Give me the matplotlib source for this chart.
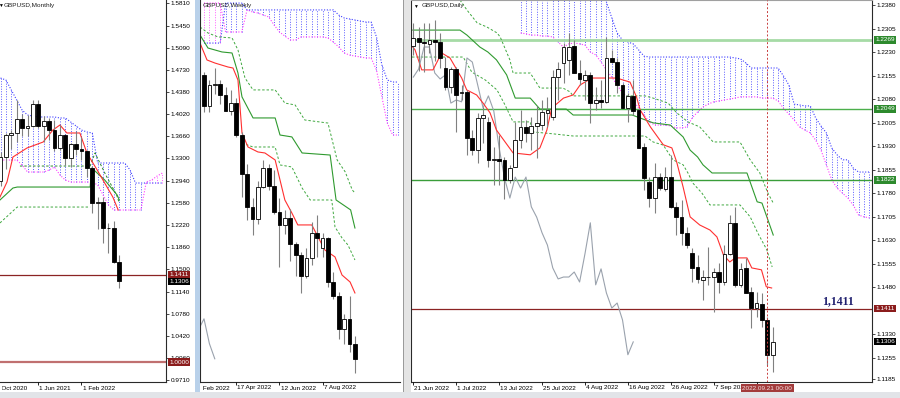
import numpy as np
import matplotlib
matplotlib.use("Agg")
import matplotlib.pyplot as plt
import matplotlib.transforms as mtransforms
from matplotlib.patches import Rectangle

plt.rcParams["font.family"] = ["Liberation Sans", "DejaVu Sans"]

# ---------------- monthly, Nov 2020 .. Sep 2022 ----------------
m_open = [1.2940, 1.3315, 1.3670, 1.3707, 1.3930, 1.3783, 1.3817, 1.4185, 1.3828, 1.3905, 1.3752, 1.3475,
          1.3682, 1.3298, 1.3532, 1.3446, 1.3414, 1.3137, 1.2572, 1.2600, 1.2178, 1.2166, 1.1621]
m_high = [1.3398, 1.3704, 1.3759, 1.4241, 1.4017, 1.4009, 1.4250, 1.4249, 1.3984, 1.3958, 1.3913, 1.3834,
          1.3698, 1.3546, 1.3749, 1.3643, 1.3437, 1.3168, 1.2667, 1.2666, 1.2246, 1.2293, 1.1738]
m_low = [1.2854, 1.3134, 1.3452, 1.3566, 1.3669, 1.3669, 1.3800, 1.3787, 1.3572, 1.3602, 1.3412, 1.3434,
         1.3194, 1.3160, 1.3358, 1.3273, 1.3000, 1.2411, 1.2155, 1.1934, 1.1760, 1.1599, 1.1208]
m_close = [1.3315, 1.3670, 1.3707, 1.3930, 1.3783, 1.3817, 1.4185, 1.3828, 1.3905, 1.3752, 1.3475, 1.3682,
           1.3298, 1.3532, 1.3446, 1.3414, 1.3137, 1.2572, 1.2600, 1.2178, 1.2166, 1.1621, 1.1306]
m_span_a = [1.3272] * 4 + [1.3192] + [1.3078] * 4 + [1.3111, 1.3159, 1.3030, 1.2949] + [1.2916] * 5 + \
           [1.2868, 1.2706, 1.2544] + [1.2463] * 6 + [1.2916, 1.2949, 1.3013, 1.3062]
m_span_b = [1.4600, 1.4568, 1.4406, 1.4244, 1.4082, 1.4001, 1.3985] + [1.3969] * 4 + \
           [1.3953, 1.3953, 1.3888, 1.3823, 1.3758, 1.3726, 1.3710] + [1.3224] * 6 + [1.3111] + [1.2900] * 6
m_tenkan_x = [-0.1, 1.2, 2.3, 4.9, 7.9, 9.7, 11.0, 12.3, 14.7, 16.0, 17.9, 20.8, 21.8]
m_tenkan_y = [1.2673, 1.2916, 1.3321, 1.3467, 1.3564, 1.3758, 1.3839, 1.3710, 1.3710, 1.3386, 1.3111, 1.2673, 1.2463]
m_kijun_x = [-0.1, 2.3, 3.1, 16.6, 16.9, 19.3, 21.6, 22.0]
m_kijun_y = [1.2625, 1.2819, 1.2835, 1.2835, 1.3143, 1.2949, 1.2706, 1.2625]
m_dash1_x = [3.6, 16.6, 17.5, 19.5, 21.5, 22.0]
m_dash1_y = [1.3175, 1.3175, 1.3386, 1.3030, 1.2706, 1.2580]
m_dash2_x = [-0.1, 3.1, 16.6]
m_dash2_y = [1.2253, 1.2511, 1.2511]
m_ticks = [1.5810, 1.5450, 1.5090, 1.4730, 1.4380, 1.4020, 1.3660, 1.3300, 1.2940, 1.2580, 1.2220,
           1.1860, 1.1500, 1.1140, 1.0780, 1.0420, 1.0060, 0.9710]
m_date_pos = [-1, 7, 15]
m_date_lab = ["1 Oct 2020", "1 Jun 2021", "1 Feb 2022"]

# ---------------- weekly, 6 Mar 2022 .. 18 Sep 2022 ----------------
w_open = [1.3248, 1.3036, 1.3180, 1.3187, 1.3115, 1.3006, 1.3060, 1.2838, 1.2572, 1.2346, 1.2262, 1.2485,
          1.2610, 1.2490, 1.2310, 1.2220, 1.2270, 1.2090, 1.2020, 1.1870, 1.1995, 1.2168, 1.2065, 1.2134,
          1.1830, 1.1735, 1.1507, 1.1580, 1.1410]
w_high = [1.3273, 1.3214, 1.3298, 1.3215, 1.3166, 1.3147, 1.3090, 1.2859, 1.2638, 1.2406, 1.2525, 1.2666,
          1.2640, 1.2600, 1.2406, 1.2324, 1.2332, 1.2104, 1.2040, 1.2063, 1.2246, 1.2293, 1.2168, 1.2138,
          1.1900, 1.1761, 1.1610, 1.1738, 1.1460]
w_low = [1.3000, 1.2999, 1.3123, 1.3051, 1.3002, 1.2973, 1.2828, 1.2411, 1.2260, 1.2155, 1.2230, 1.2477,
         1.2460, 1.2300, 1.1934, 1.2160, 1.1976, 1.1876, 1.1760, 1.1860, 1.1950, 1.2004, 1.2004, 1.1801,
         1.1717, 1.1444, 1.1406, 1.1351, 1.1212]
w_close = [1.3036, 1.3180, 1.3187, 1.3115, 1.3006, 1.3060, 1.2838, 1.2572, 1.2346, 1.2262, 1.2485, 1.2610,
           1.2490, 1.2310, 1.2220, 1.2270, 1.2090, 1.2020, 1.1870, 1.1995, 1.2166, 1.2134, 1.2134, 1.1830,
           1.1735, 1.1507, 1.1580, 1.1410, 1.1306]
w_span_a = [1.3743] * 4 + [1.3545] * 4 + [1.3696, 1.3682, 1.3675, 1.3661, 1.3648, 1.3593, 1.3545, 1.3517,
           1.3490, 1.3490, 1.3511, 1.3511, 1.3511, 1.3511, 1.3511, 1.3504, 1.3476, 1.3442, 1.3401, 1.3387,
           1.3380, 1.3374, 1.3367, 1.3367, 1.3284, 1.3100, 1.2921, 1.2839, 1.2839]
w_span_b = [1.3469] * 4 + [1.3743] * 4 + [1.3696] * 17 + [1.3661, 1.3641, 1.3634, 1.3627, 1.3620, 1.3613,
           1.3613, 1.3511, 1.3319, 1.3216, 1.3202, 1.3202]
w_tenkan_x = [-0.74, 0.56, 2.04, 4.45, 5.38, 6.3, 7.05, 8.16, 10.0, 11.3, 13.2, 15.0, 16.3, 17.4, 20.0,
              22.4, 24.3, 25.6, 27.1, 28.0]
w_tenkan_y = [1.3469, 1.3353, 1.3332, 1.3305, 1.3298, 1.3216, 1.2853, 1.2757, 1.2723, 1.2716, 1.2668,
              1.2394, 1.2305, 1.2223, 1.2223, 1.2052, 1.2004, 1.1880, 1.1832, 1.1757]
w_kijun_x = [-0.74, 0.74, 3.34, 5.2, 6.3, 7.05, 9.1, 13.2, 14.1, 16.3, 18.2, 23.4, 24.5, 27.2, 28.0]
w_kijun_y = [1.3524, 1.3435, 1.3408, 1.3401, 1.3264, 1.3100, 1.2956, 1.2956, 1.2839, 1.2826, 1.2716,
             1.2702, 1.2394, 1.2326, 1.2202]
w_dash1_x = [-0.74, 0.74, 2.6, 5.2, 6.3, 7.6, 9.1, 13.2, 15.0, 16.9, 18.7, 23.0, 24.7, 26.2, 27.5, 28.0]
w_dash1_y = [1.3579, 1.3538, 1.3511, 1.3504, 1.3422, 1.3230, 1.3148, 1.3148, 1.3058, 1.3045, 1.2942,
             1.2921, 1.2668, 1.2586, 1.2463, 1.2442]
w_dash2_x = [7.05, 9.1, 13.2, 14.1, 16.3, 18.2, 19.7, 23.7, 24.3, 25.6, 26.7, 28.0]
w_dash2_y = [1.2784, 1.2757, 1.2757, 1.2634, 1.2620, 1.2476, 1.2394, 1.2394, 1.2209, 1.2134, 1.2086, 1.1983]
w_date_pos = [-2, 6, 14, 22]
w_date_lab = ["20 Feb 2022", "17 Apr 2022", "12 Jun 2022", "7 Aug 2022"]

# ---------------- daily, 21 Jun 2022 .. 22 Sep 2022 ----------------
d_open = [1.2250, 1.2275, 1.2262, 1.2256, 1.2268, 1.2262, 1.2179, 1.2118, 1.2176, 1.2100,
          1.2103, 1.1956, 1.1917, 1.2020, 1.2007, 1.1886, 1.1889, 1.1886, 1.1822, 1.1863,
          1.1949, 1.1991, 1.1972, 1.1994, 1.1997, 1.2036, 1.2023, 1.2150, 1.2195, 1.2205,
          1.2249, 1.2163, 1.2141, 1.2157, 1.2067, 1.2077, 1.2071, 1.2211, 1.2198, 1.2125,
          1.2052, 1.2090, 1.2045, 1.1927, 1.1815, 1.1764, 1.1831, 1.1793, 1.1831, 1.1736,
          1.1703, 1.1653, 1.1589, 1.1544, 1.1503, 1.1512, 1.1512, 1.1528, 1.1496, 1.1586,
          1.1685, 1.1487, 1.1541, 1.1465, 1.1413, 1.1426, 1.1375, 1.1264]
d_high = [1.2324, 1.2310, 1.2323, 1.2323, 1.2333, 1.2290, 1.2214, 1.2182, 1.2182, 1.2125,
          1.2109, 1.1981, 1.2036, 1.2055, 1.2023, 1.1927, 1.1965, 1.1895, 1.1870, 1.2007,
          1.2045, 1.2013, 1.2023, 1.2058, 1.2077, 1.2087, 1.2173, 1.2198, 1.2259, 1.2290,
          1.2268, 1.2205, 1.2173, 1.2166, 1.2118, 1.2141, 1.2278, 1.2237, 1.2211, 1.2131,
          1.2100, 1.2141, 1.2052, 1.1940, 1.1831, 1.1876, 1.1844, 1.1863, 1.1900, 1.1752,
          1.1758, 1.1672, 1.1605, 1.1583, 1.1535, 1.1608, 1.1541, 1.1557, 1.1614, 1.1710,
          1.1736, 1.1557, 1.1573, 1.1480, 1.1465, 1.1461, 1.1385, 1.1353]
d_low = [1.2220, 1.2170, 1.2166, 1.2227, 1.2200, 1.2179, 1.2109, 1.2100, 1.1975, 1.2077,
         1.1902, 1.1902, 1.1876, 1.1940, 1.1863, 1.1806, 1.1806, 1.1760, 1.1812, 1.1863,
         1.1924, 1.1943, 1.1917, 1.1892, 1.1981, 1.1991, 1.2013, 1.2077, 1.2131, 1.2157,
         1.2163, 1.2125, 1.2077, 1.2004, 1.2045, 1.2052, 1.2067, 1.2195, 1.2100, 1.2052,
         1.2007, 1.2029, 1.1924, 1.1790, 1.1736, 1.1716, 1.1790, 1.1787, 1.1733, 1.1646,
         1.1614, 1.1605, 1.1496, 1.1493, 1.1439, 1.1487, 1.1400, 1.1461, 1.1487, 1.1583,
         1.1480, 1.1480, 1.1461, 1.1350, 1.1385, 1.1353, 1.1232, 1.1209]
d_close = [1.2275, 1.2262, 1.2259, 1.2268, 1.2262, 1.2211, 1.2118, 1.2176, 1.2093, 1.2103,
           1.1956, 1.1917, 1.2020, 1.2029, 1.1886, 1.1889, 1.1882, 1.1822, 1.1860, 1.1949,
           1.1991, 1.1972, 1.1994, 1.2004, 1.2039, 1.2045, 1.2150, 1.2176, 1.2246, 1.2246,
           1.2163, 1.2144, 1.2157, 1.2067, 1.2077, 1.2071, 1.2211, 1.2198, 1.2125, 1.2052,
           1.2090, 1.2042, 1.1924, 1.1828, 1.1764, 1.1831, 1.1796, 1.1831, 1.1736, 1.1703,
           1.1653, 1.1614, 1.1541, 1.1506, 1.1512, 1.1512, 1.1528, 1.1496, 1.1586, 1.1685,
           1.1487, 1.1538, 1.1461, 1.1413, 1.1429, 1.1375, 1.1264, 1.1305]
d_span_a = [1.2291, 1.2288, 1.2284, 1.2284, 1.2281, 1.2281, 1.2278, 1.2262, 1.2246, 1.2256, 1.2259,
            1.2256, 1.2252, 1.2230, 1.2221, 1.2198, 1.2173, 1.2150, 1.2125, 1.2099, 1.2087, 1.2077,
            1.2051, 1.2029, 1.2007, 1.1997, 1.1997, 1.1997, 1.1994, 1.1988, 1.1988, 1.1991, 1.2020,
            1.2039, 1.2055, 1.2064, 1.2071, 1.2074, 1.2077, 1.2080, 1.2083, 1.2087, 1.2087, 1.2087,
            1.2087, 1.2083, 1.2083, 1.2083, 1.2074, 1.2051, 1.2032, 1.2013, 1.1991, 1.1981, 1.1972,
            1.1949, 1.1917, 1.1870, 1.1822, 1.1796, 1.1780, 1.1764, 1.1742, 1.1710, 1.1704, 1.1701]
d_span_b = [1.2460] * 16 + [1.2390, 1.2339, 1.2291, 1.2268, 1.2262, 1.2256, 1.2237, 1.2217] + \
           [1.2214] * 16 + [1.2211, 1.2208, 1.2195] + [1.2179] * 6 + \
           [1.2154, 1.2125, 1.2064, 1.2061, 1.2058, 1.2058, 1.2020, 1.1994, 1.1972, 1.1924, 1.1902,
            1.1886, 1.1886, 1.1860, 1.1847, 1.1847, 1.1847]
d_tenkan_x = [-0.11, 0.32, 1.57, 3.67, 5.29, 6.84, 9.02, 9.96, 11.8, 13.0, 14.3, 15.5, 18.6, 21.8,
              23.6, 24.9, 25.8, 28.0, 29.8, 31.1, 33.3, 37.9, 40.4, 41.6, 42.3, 44.2, 46.6, 48.2,
              49.1, 50.3, 51.6, 53.4, 55.3, 56.6, 57.8, 59.0, 60.0, 62.2, 63.1, 64.9, 65.8, 66.8]
d_tenkan_y = [1.2246, 1.2237, 1.2173, 1.2173, 1.2227, 1.2211, 1.2147, 1.2109, 1.2093, 1.2067, 1.2036,
              1.1981, 1.1908, 1.1902, 1.1924, 1.1981, 1.2051, 1.2083, 1.2093, 1.2125, 1.2147, 1.2147,
              1.2134, 1.2087, 1.2045, 1.1991, 1.1934, 1.1924, 1.1879, 1.1799, 1.1704, 1.1678, 1.1662,
              1.1640, 1.1583, 1.1560, 1.1573, 1.1573, 1.1541, 1.1535, 1.1481, 1.1477]
d_kijun_x = [-0.1, 8.7, 10.0, 12.4, 13.9, 15.5, 17.4, 19.0, 21.8, 23.6, 28.5, 29.8, 40.8, 44.7,
             47.9, 50.3, 51.6, 53.0, 54.0, 55.7, 62.2, 64.1, 65.0, 67.1]
d_kijun_y = [1.2300, 1.2300, 1.2284, 1.2246, 1.2230, 1.2205, 1.2157, 1.2083, 1.2083, 1.2048, 1.2048,
             1.2029, 1.2029, 1.2004, 1.1997, 1.1959, 1.1917, 1.1895, 1.1870, 1.1844, 1.1844, 1.1752,
             1.1748, 1.1646]
d_dash1_x = [8.7, 10.0, 11.9, 13.7, 15.6, 16.2, 18.0, 18.6, 21.8, 23.6, 27.9, 29.2, 29.8, 43.2, 44.7,
             47.5, 49.1, 51.2, 53.4, 55.9, 60.9, 62.8, 64.6, 66.1, 67.1]
d_dash1_y = [1.2396, 1.2364, 1.2323, 1.2310, 1.2291, 1.2278, 1.2205, 1.2163, 1.2163, 1.2115, 1.2115,
             1.2103, 1.2090, 1.2090, 1.2083, 1.2067, 1.2036, 1.2007, 1.1991, 1.1943, 1.1943, 1.1886,
             1.1844, 1.1780, 1.1748]
d_dash2_x = [-0.24, 9.3, 10.9, 13.4, 15.6, 17.1, 18.6, 21.8, 22.3, 26.0, 29.8, 43.2, 44.7, 46.6,
             48.4, 50.3, 51.2, 52.1, 53.8, 55.3, 60.9, 62.8, 64.2, 65.9, 66.9]
d_dash2_y = [1.2214, 1.2214, 1.2166, 1.2141, 1.2109, 1.2061, 1.2007, 1.2007, 1.1975, 1.1969, 1.1962,
             1.1962, 1.1943, 1.1933, 1.1886, 1.1870, 1.1844, 1.1812, 1.1780, 1.1742, 1.1742, 1.1704,
             1.1653, 1.1599, 1.1544]
d_ticks = [1.2380, 1.2305, 1.2230, 1.2155, 1.2080, 1.2005, 1.1930, 1.1855, 1.1780, 1.1705, 1.1630,
           1.1555, 1.1480, 1.1330, 1.1255, 1.1185]
d_date_pos = [0, 8, 16, 24, 32, 40, 48, 56, 64]
# the 19 Sep label sits under the cursor date box in the screenshot
d_date_lab = ["21 Jun 2022", "1 Jul 2022", "13 Jul 2022", "25 Jul 2022", "4 Aug 2022",
              "16 Aug 2022", "26 Aug 2022", "7 Sep 2022", ""]
cursor_bar = 66
cursor_label = "2022.09.21 00:00"

W, H = 900, 398
FS = 4.6
fig = plt.figure(figsize=(W / 100, H / 100), dpi=100)


def rect(x0, y0, x1, y1):
    # pixel box, origin top-left -> figure fraction
    return [x0 / W, 1 - y1 / H, (x1 - x0) / W, (y1 - y0) / H]


def make_panel(x0, x1, xlim, ylim, yticks=None):
    ax = fig.add_axes(rect(x0, 0, x1, 382))
    ax.set_xlim(*xlim)
    ax.set_ylim(*ylim)
    ax.set_xticks([])
    for sp in ax.spines.values():
        sp.set_color("#2a2a2a")
        sp.set_linewidth(0.8)
    ax.spines["top"].set_visible(False)
    if yticks:
        ax.yaxis.tick_right()
        ax.set_yticks(yticks, [f"{v:.4f}" for v in yticks])
        ax.tick_params(axis="y", length=2, width=0.5, pad=1.5, labelsize=FS)
    else:
        ax.set_yticks([])
    return ax


def candles(ax, o, h, l, c, w=0.7):
    o, h, l, c = (np.asarray(a, float) for a in (o, h, l, c))
    x = np.arange(len(o))
    ax.vlines(x, l, h, color="#808080", lw=0.8, zorder=4)
    up = c >= o
    ax.bar(x[up], (c - o)[up], w, o[up], color="white", edgecolor="black", lw=0.6, zorder=5)
    ax.bar(x[~up], (o - c)[~up], w, c[~up], color="black", edgecolor="black", lw=0.6, zorder=5)


def cloud(ax, start, span_a, span_b):
    a = np.asarray(span_a)
    b = np.asarray(span_b)
    x = np.arange(start, start + len(a))
    cols = ["#5a5aff" if bb >= aa else "#ff5cff" for aa, bb in zip(a, b)]
    ax.vlines(x, np.minimum(a, b), np.maximum(a, b), colors=cols, lw=0.7,
              linestyles=(0, (1, 1.6)), zorder=1)
    ax.plot(x, a, color="#ff3cff", lw=0.8, ls=(0, (1, 1.5)), zorder=1.5)
    ax.plot(x, b, color="#3c3cff", lw=0.8, ls=(0, (1, 1.5)), zorder=1.5)


def price_tag(ax, v, fc, tc="white"):
    tr = mtransforms.offset_copy(ax.get_yaxis_transform(), fig=fig, x=3, y=0, units="dots")
    ax.text(1.0, v, f"{v:.4f}", transform=tr, fontsize=FS, color=tc, ha="left", va="center",
            zorder=8, clip_on=False, bbox=dict(boxstyle="square,pad=0.2", fc=fc, ec="none"))


def date_strip(x0, x1, xlim, ticks, labels):
    ax = fig.add_axes(rect(x0, 382, x1, 392))
    ax.set_xlim(*xlim)
    ax.set_ylim(0, 1)
    ax.axis("off")
    ax.vlines(ticks, 0.7, 1.0, color="black", lw=0.6)
    # clip labels to the panel (display pixels, y from bottom)
    clip = mtransforms.Bbox([[x0 + 2, H - 392], [x1, H - 382]])
    for t, s in zip(ticks, labels):
        txt = ax.text(t + 0.2, 0.4, s, fontsize=FS, ha="left", va="center")
        txt.set_clip_box(clip)
        txt.set_clip_on(True)
    return ax


def ind_lines(ax, tk, kj, d1, d2, d1_color="#3fa83f"):
    ax.plot(*d1, color=d1_color, lw=0.7, ls=(0, (2.5, 2)), zorder=2)
    ax.plot(*d2, color="#3fa83f", lw=0.7, ls=(0, (2.5, 2)), zorder=2)
    ax.plot(*kj, color="#2f9a2f", lw=0.8, zorder=2.2)
    ax.plot(*tk, color="#ff3030", lw=0.8, zorder=2.4)


# ---------- monthly ----------
m_xlim = (-0.093, 30.65)
ax_m = make_panel(0, 166, m_xlim, (0.9678, 1.58634), m_ticks)
ax_m.spines["left"].set_visible(False)
cloud(ax_m, 0, m_span_a, m_span_b)
ind_lines(ax_m, (m_tenkan_x, m_tenkan_y), (m_kijun_x, m_kijun_y),
          (m_dash1_x, m_dash1_y), (m_dash2_x, m_dash2_y), d1_color="#2a8a2a")
ax_m.axhline(1.1411, color="#8b2323", lw=0.9, zorder=2)
ax_m.axhline(1.0000, color="#c07070", lw=1.6, zorder=2)
candles(ax_m, m_open, m_high, m_low, m_close)
price_tag(ax_m, 1.1411, "#8b1c1c")
price_tag(ax_m, 1.1306, "black")
price_tag(ax_m, 1.0000, "#8b1c1c")
ax_m.text(0.0, 1 - 5 / 382, "\u25bc", transform=ax_m.transAxes, fontsize=3.5, ha="center", va="center")
ax_m.text(4 / 166, 1 - 5 / 382, "GBPUSD,Monthly", transform=ax_m.transAxes, fontsize=FS,
          ha="left", va="center", color="#202020")
date_strip(0, 166, m_xlim, m_date_pos, m_date_lab)

# ---------- weekly ----------
w_xlim = (-0.742, 36.36)
ax_w = make_panel(200, 400, w_xlim, (1.1147, 1.3764))
ax_w.spines["right"].set_visible(False)
cloud(ax_w, 0, w_span_a, w_span_b)
ind_lines(ax_w, (w_tenkan_x, w_tenkan_y), (w_kijun_x, w_kijun_y),
          (w_dash1_x, w_dash1_y), (w_dash2_x, w_dash2_y))
ax_w.plot(np.arange(-1, 3), w_close[25:29], color="#9aa2ad", lw=0.8, zorder=2)
candles(ax_w, w_open, w_high, w_low, w_close)
ax_w.text(3 / 200, 1 - 5 / 382, "GBPUSD,Weekly", transform=ax_w.transAxes, fontsize=FS,
          ha="left", va="center", color="#202020", zorder=9)
date_strip(200, 400, w_xlim, w_date_pos, w_date_lab)

# ---------- daily ----------
d_xlim = (-0.43, 85.51)
ax_d = make_panel(411, 872, d_xlim, (1.1177, 1.2396), d_ticks)
ax_d.spines["top"].set_visible(True)
ax_d.spines["top"].set_color("#a0a0a0")
cloud(ax_d, 20, d_span_a, d_span_b)
ax_d.axhline(1.2269, color="#a6dba6", lw=2.0, zorder=1.8)
ax_d.axhline(1.2049, color="#4caf4c", lw=1.0, zorder=1.8)
ax_d.axhline(1.1822, color="#3a9d3a", lw=1.0, zorder=1.8)
ax_d.axhline(1.1411, color="#8b2323", lw=0.9, zorder=1.8)
ind_lines(ax_d, (d_tenkan_x, d_tenkan_y), (d_kijun_x, d_kijun_y),
          (d_dash1_x, d_dash1_y), (d_dash2_x, d_dash2_y))
ax_d.plot(np.arange(0, 42), d_close[26:], color="#9aa2ad", lw=0.8, zorder=2)
candles(ax_d, d_open, d_high, d_low, d_close)
ax_d.axvline(cursor_bar, color="#c83c3c", lw=0.7, ls=(0, (2, 2)), zorder=6)
for v in (1.2269, 1.2049, 1.1822):
    price_tag(ax_d, v, "#2d8a2d")
price_tag(ax_d, 1.1411, "#8b1c1c")
price_tag(ax_d, 1.1306, "black")
ax_d.text(79.2, 1.1436, "1,1411", fontsize=8.5, fontweight="bold", family="Liberation Serif",
          color="#1e1e6e", ha="center", va="center", zorder=9)
ax_d.text(4 / 461, 1 - 6 / 382, "\u25bc", transform=ax_d.transAxes, fontsize=3.5, ha="center", va="center")
ax_d.text(11 / 461, 1 - 6 / 382, "GBPUSD,Daily", transform=ax_d.transAxes, fontsize=FS,
          ha="left", va="center", color="#202020", zorder=9)
ax_dd = date_strip(411, 872, d_xlim, d_date_pos, d_date_lab)
ax_dd.text(cursor_bar, 0.4, cursor_label, fontsize=FS, ha="center", va="center", color="#f6e2e2",
           zorder=6, bbox=dict(boxstyle="square,pad=0.2", fc="#a33b3b", ec="none"))

# ---------- window chrome ----------
fig.add_artist(Rectangle((195 / W, 6 / H), 4.5 / W, 392 / H, transform=fig.transFigure,
                         fc="#b9d1ea", ec="none", zorder=10))
fig.add_artist(Rectangle((403.5 / W, 6 / H), 7 / W, 392 / H, transform=fig.transFigure,
                         fc="#e4e4e4", ec="none", zorder=10))
fig.add_artist(Rectangle((403 / W, 6 / H), 0.8 / W, 392 / H, transform=fig.transFigure,
                         fc="#9a9a9a", ec="none", zorder=10))
fig.add_artist(Rectangle((0, 0), 1, 6 / H, transform=fig.transFigure,
                         fc="#e2e4e8", ec="none", zorder=10))

fig.savefig("out.png", dpi=100)
